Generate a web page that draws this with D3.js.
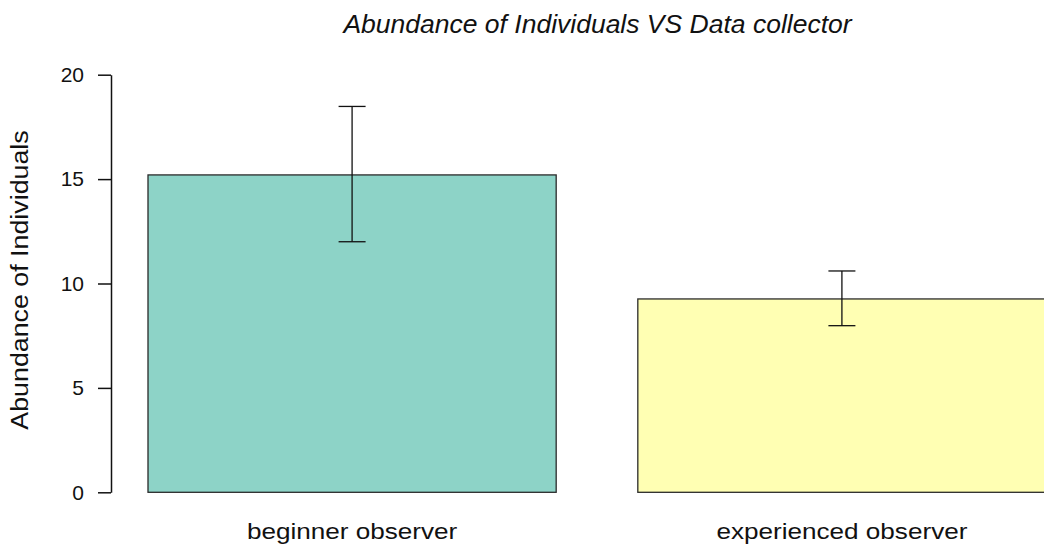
<!DOCTYPE html>
<html>
<head>
<meta charset="utf-8">
<script src="https://cdn.jsdelivr.net/npm/d3@7"></script>
<style>
  html, body { margin: 0; padding: 0; background: #fff; }
  svg { display: block; font-family: "Liberation Sans", Arial, sans-serif; }
</style>
</head>
<body>
<svg id="chart" width="1044" height="545"></svg>
<script>
const categories = ["beginner observer", "experienced observer"];
const means = [15.2, 9.26];
const lower = [12.0, 7.98];
const upper = [18.48, 10.6];
const colors = ["#8DD3C7", "#FFFFB3"];
const yTicks = [0, 5, 10, 15, 20];
const title = "Abundance of Individuals VS Data collector";
const yLabel = "Abundance of Individuals";

const svg = d3.select("#chart");

const y = d3.scaleLinear().domain([0, 20]).range([492.3, 74.7]);
const x = d3.scaleBand().domain(categories).range([148, 1046])
  .paddingInner(1 / 6).paddingOuter(0);

// bars
svg.selectAll("rect.bar").data(categories).enter().append("rect")
  .attr("class", "bar")
  .attr("x", d => x(d))
  .attr("y", (d, i) => y(means[i]))
  .attr("width", x.bandwidth())
  .attr("height", (d, i) => y(0) - y(means[i]))
  .attr("fill", (d, i) => colors[i])
  .attr("stroke", "#2a2a2a")
  .attr("stroke-width", 1.3);

// error bars
const capW = 13.5;
const eb = svg.selectAll("g.err").data(categories).enter().append("g")
  .attr("class", "err")
  .attr("stroke", "#111").attr("stroke-width", 1.3);
eb.append("line")
  .attr("x1", d => x(d) + x.bandwidth() / 2).attr("x2", d => x(d) + x.bandwidth() / 2)
  .attr("y1", (d, i) => y(lower[i])).attr("y2", (d, i) => y(upper[i]));
eb.append("line")
  .attr("x1", d => x(d) + x.bandwidth() / 2 - capW).attr("x2", d => x(d) + x.bandwidth() / 2 + capW)
  .attr("y1", (d, i) => y(upper[i])).attr("y2", (d, i) => y(upper[i]));
eb.append("line")
  .attr("x1", d => x(d) + x.bandwidth() / 2 - capW).attr("x2", d => x(d) + x.bandwidth() / 2 + capW)
  .attr("y1", (d, i) => y(lower[i])).attr("y2", (d, i) => y(lower[i]));

// y axis
const yAxis = d3.axisLeft(y).tickValues(yTicks).tickSize(13).tickPadding(14).tickSizeOuter(0);
const gy = svg.append("g").attr("transform", "translate(111,0)").call(yAxis);
gy.select(".domain").attr("stroke", "#111").attr("stroke-width", 1.5);
gy.selectAll(".tick line").attr("stroke", "#111").attr("stroke-width", 1.5);
gy.selectAll(".tick text").attr("font-size", 21).attr("fill", "#111")
  .attr("font-family", "'Liberation Sans', Arial, sans-serif");

// widen text horizontally like the reference rendering
function stretch(sel, k) {
  sel.each(function () {
    const w = this.getComputedTextLength();
    d3.select(this).attr("textLength", w * k).attr("lengthAdjust", "spacingAndGlyphs");
  });
}

// x category labels
svg.selectAll("text.cat").data(categories).enter().append("text")
  .attr("class", "cat")
  .attr("x", d => x(d) + x.bandwidth() / 2)
  .attr("y", 538.5)
  .attr("text-anchor", "middle")
  .attr("font-size", 22.5)
  .attr("fill", "#111")
  .text(d => d)
  .call(stretch, 1.16);

// title
svg.append("text")
  .attr("x", 597.5).attr("y", 33)
  .attr("text-anchor", "middle")
  .attr("font-size", 26.5)
  .attr("font-style", "italic")
  .attr("fill", "#111")
  .text(title)
  .call(stretch, 1.0);

// y label
svg.append("text")
  .attr("transform", "translate(28,280) rotate(-90)")
  .attr("text-anchor", "middle")
  .attr("font-size", 23.5)
  .attr("fill", "#111")
  .text(yLabel)
  .call(stretch, 1.14);
</script>
</body>
</html>
